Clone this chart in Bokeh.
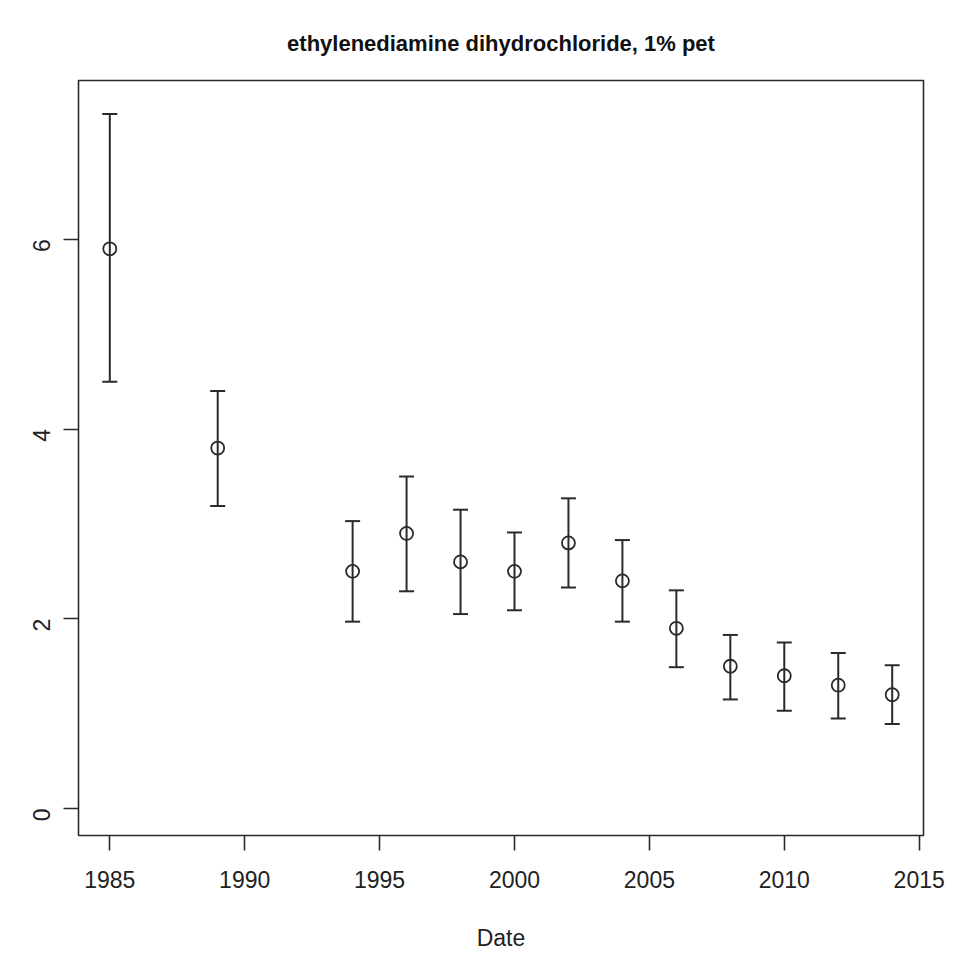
import math
from bokeh.plotting import figure
from bokeh.models import ColumnDataSource, Whisker, TeeHead, Range1d, FixedTicker
from bokeh.embed import file_html
from bokeh.resources import INLINE

years = [1985, 1989, 1994, 1996, 1998, 2000, 2002, 2004, 2006, 2008, 2010, 2012, 2014]
estimate = [5.9, 3.8, 2.5, 2.9, 2.6, 2.5, 2.8, 2.4, 1.9, 1.5, 1.4, 1.3, 1.2]
upper = [7.32, 4.40, 3.03, 3.50, 3.15, 2.91, 3.27, 2.83, 2.30, 1.83, 1.75, 1.64, 1.51]
lower = [4.50, 3.19, 1.97, 2.29, 2.05, 2.09, 2.33, 1.97, 1.49, 1.15, 1.03, 0.95, 0.89]
x_ticks = [1985, 1990, 1995, 2000, 2005, 2010, 2015]
y_ticks = [0, 2, 4, 6]

FONT = "Liberation Sans"
INK = "#2a2a2a"

src = ColumnDataSource(dict(x=years, y=estimate, up=upper, lo=lower))

p = figure(width=970, height=953, output_backend="svg", toolbar_location=None,
           x_range=Range1d(1983.84, 2015.16), y_range=Range1d(-0.284, 7.674),
           min_border_left=78, min_border_right=47, min_border_top=80, min_border_bottom=117,
           title="ethylenediamine dihydrochloride, 1% pet")

p.title.text_font = FONT
p.title.text_font_size = "22px"
p.title.text_font_style = "bold"
p.title.text_color = "#111111"
p.title.align = "center"
p.title.standoff = 49

p.outline_line_color = INK
p.outline_line_width = 1.6
p.xgrid.visible = False
p.ygrid.visible = False
p.background_fill_color = "white"
p.border_fill_color = "white"

for ax in (p.xaxis[0], p.yaxis[0]):
    ax.axis_line_color = None
    ax.major_tick_line_color = INK
    ax.major_tick_line_width = 1.6
    ax.major_tick_in = 0
    ax.major_tick_out = 15
    ax.minor_tick_line_color = None
    ax.major_label_text_font = FONT
    ax.major_label_text_font_size = "23px"
    ax.major_label_text_color = "#222222"
    ax.major_label_text_line_height = 0.9
    ax.axis_label_text_font = FONT
    ax.axis_label_text_font_size = "23px"
    ax.axis_label_text_font_style = "normal"
    ax.axis_label_text_color = "#222222"
    ax.axis_label_text_line_height = 0.9

p.xaxis[0].ticker = FixedTicker(ticks=x_ticks)
p.yaxis[0].ticker = FixedTicker(ticks=y_ticks)
p.xaxis[0].major_label_standoff = 20
p.xaxis[0].axis_label = "Date"
p.xaxis[0].axis_label_standoff = 34
p.yaxis[0].major_label_standoff = 22
p.yaxis[0].major_label_orientation = math.pi / 2

w = Whisker(base="x", upper="up", lower="lo", source=src, dimension="height",
            line_color=INK, line_width=2,
            upper_head=TeeHead(size=15, line_color=INK, line_width=2),
            lower_head=TeeHead(size=15, line_color=INK, line_width=2))
p.add_layout(w)

p.scatter("x", "y", source=src, size=13, marker="circle", fill_color=None,
          line_color=INK, line_width=1.8)

open("out.html", "w").write(file_html(p, INLINE))
